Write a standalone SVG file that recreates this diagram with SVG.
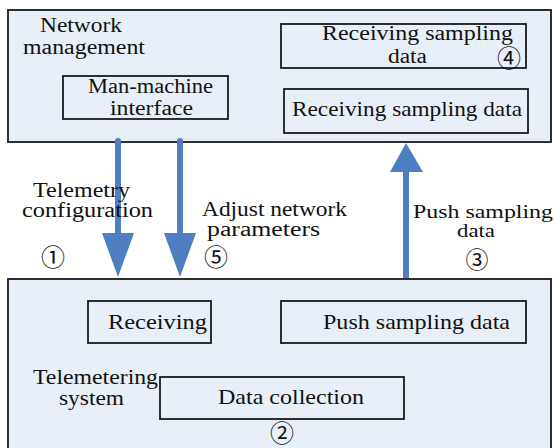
<svg xmlns="http://www.w3.org/2000/svg" width="555" height="448" viewBox="0 0 555 448">
<defs>
<style>
.outer{fill:#e9eff9;stroke:#1a1a1a;stroke-width:1.8}
.box{fill:#e9eff9;stroke:#1a1a1a;stroke-width:1.8}
.t{font-family:'Liberation Serif','Times New Roman',serif;font-size:21px;fill:#111}
.s{font-size:20px}
.l{font-size:19px}
.n{font-family:'Noto Sans CJK JP','Noto Sans CJK SC','DejaVu Sans',sans-serif;font-size:24px;fill:#111;text-anchor:middle}
.shaft{stroke:#4f7fc3;stroke-width:6;stroke-linecap:round;fill:none}
.head{fill:#4f7fc3}
</style>
</defs>
<rect width="555" height="448" fill="#ffffff"/>
<g id="network-management">
<rect class="outer" x="8" y="10" width="543" height="132"/>
<text class="t s" x="40" y="32" textLength="82" lengthAdjust="spacingAndGlyphs">Network</text>
<text class="t s" x="23" y="54" textLength="122" lengthAdjust="spacingAndGlyphs">management</text>
</g>
<g id="man-machine-interface">
<rect class="box" x="63" y="76" width="165" height="43"/>
<text class="t s" x="88" y="93" textLength="125" lengthAdjust="spacingAndGlyphs">Man-machine</text>
<text class="t s" x="110" y="115" textLength="83" lengthAdjust="spacingAndGlyphs">interface</text>
</g>
<g id="receiving-sampling-data-4">
<rect class="box" x="281" y="24" width="245" height="44"/>
<text class="t s" x="322" y="40" textLength="191" lengthAdjust="spacingAndGlyphs">Receiving sampling</text>
<text class="t s" x="388" y="63" textLength="39" lengthAdjust="spacingAndGlyphs">data</text>
<text class="n" x="509" y="67">④</text>
</g>
<g id="receiving-sampling-data">
<rect class="box" x="284" y="89" width="244" height="44"/>
<text class="t" x="292" y="116" textLength="230" lengthAdjust="spacingAndGlyphs">Receiving sampling data</text>
</g>
<g id="telemetering-system">
<rect class="outer" x="8" y="279" width="543" height="180"/>
<text class="t s" x="33" y="384" textLength="125" lengthAdjust="spacingAndGlyphs">Telemetering</text>
<text class="t s" x="59" y="405" textLength="65" lengthAdjust="spacingAndGlyphs">system</text>
<text class="n" x="282" y="442">②</text>
</g>
<g id="receiving">
<rect class="box" x="88" y="301" width="123" height="42"/>
<text class="t" x="108" y="329" textLength="99" lengthAdjust="spacingAndGlyphs">Receiving</text>
</g>
<g id="push-sampling-data">
<rect class="box" x="281" y="301" width="245" height="42"/>
<text class="t" x="323" y="329" textLength="187" lengthAdjust="spacingAndGlyphs">Push sampling data</text>
</g>
<g id="data-collection">
<rect class="box" x="160" y="377" width="244" height="42"/>
<text class="t" x="218" y="404" textLength="146" lengthAdjust="spacingAndGlyphs">Data collection</text>
</g>
<g id="connectors">
<line class="shaft" x1="118" y1="141" x2="118" y2="236"/>
<polygon class="head" points="102,233 134,233 118,277"/>
<line class="shaft" x1="180" y1="141" x2="180" y2="236"/>
<polygon class="head" points="164,233 196,233 180,277"/>
<line class="shaft" x1="406" y1="278" x2="406" y2="168" style="stroke-linecap:butt"/>
<polygon class="head" points="390,172 423,172 406,143"/>
<text class="t s" x="33" y="197" textLength="97" lengthAdjust="spacingAndGlyphs">Telemetry</text>
<text class="t s" x="22" y="217" textLength="131" lengthAdjust="spacingAndGlyphs">configuration</text>
<text class="n" x="53" y="266">①</text>
<text class="t s" x="202" y="216" textLength="145" lengthAdjust="spacingAndGlyphs">Adjust network</text>
<text class="t s" x="207" y="236" textLength="113" lengthAdjust="spacingAndGlyphs">parameters</text>
<text class="n" x="216" y="266">⑤</text>
<text class="t l" x="413" y="218" textLength="140" lengthAdjust="spacingAndGlyphs">Push sampling</text>
<text class="t l" x="457" y="237" textLength="38" lengthAdjust="spacingAndGlyphs">data</text>
<text class="n" x="477" y="268" style="font-size:23px">③</text>
</g>
</svg>
